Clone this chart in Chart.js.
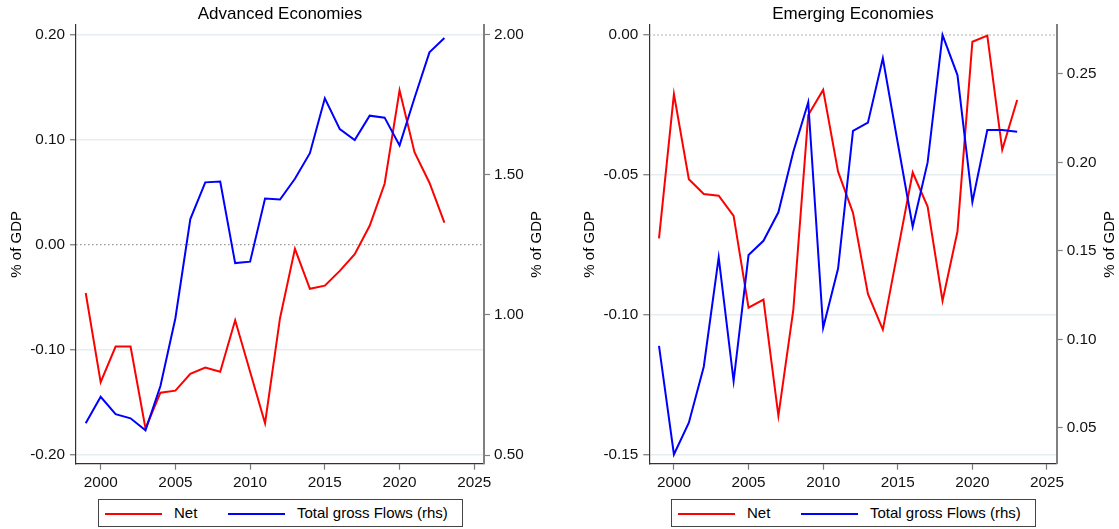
<!DOCTYPE html>
<html><head><meta charset="utf-8">
<script src="https://cdn.jsdelivr.net/npm/chart.js@4/dist/chart.umd.min.js"></script>
<style>
html,body{margin:0;padding:0;background:#fff;}
#wrap{position:relative;width:1119px;height:529px;overflow:hidden;font-family:"Liberation Sans",Arial,sans-serif;}
canvas{position:absolute;top:0;}
.legend{position:absolute;top:499px;height:28px;border:1px solid #444;box-sizing:border-box;font-size:15px;color:#000;background:#fff;}
.legend .sw{position:absolute;top:13px;height:0;border-top:2px solid;}
.legend .tx{position:absolute;top:4px;line-height:18px;white-space:nowrap;}
</style></head>
<body>
<div id="wrap">
  <canvas id="c1" width="560" height="496" style="left:0px"></canvas>
  <canvas id="c2" width="559" height="496" style="left:560px"></canvas>
  <div class="legend" style="left:98px;width:365px">
    <div class="sw" style="left:6px;width:57px;border-color:#ff0000"></div>
    <div class="tx" style="left:75px">Net</div>
    <div class="sw" style="left:129px;width:57px;border-color:#0000ff"></div>
    <div class="tx" style="left:198px">Total gross Flows (rhs)</div>
  </div>
  <div class="legend" style="left:671px;width:365px">
    <div class="sw" style="left:6px;width:57px;border-color:#ff0000"></div>
    <div class="tx" style="left:75px">Net</div>
    <div class="sw" style="left:129px;width:57px;border-color:#0000ff"></div>
    <div class="tx" style="left:198px">Total gross Flows (rhs)</div>
  </div>
</div>
<script>
// ---- data ----
const years = [1999,2000,2001,2002,2003,2004,2005,2006,2007,2008,2009,2010,2011,2012,2013,2014,2015,2016,2017,2018,2019,2020,2021,2022,2023];
const advNet = [-0.046,-0.131,-0.097,-0.097,-0.175,-0.141,-0.139,-0.123,-0.117,-0.121,-0.072,-0.121,-0.170,-0.070,-0.004,-0.042,-0.039,-0.025,-0.009,0.018,0.058,0.147,0.088,0.059,0.021];
const advGross = [0.613,0.708,0.646,0.631,0.588,0.746,0.988,1.342,1.473,1.476,1.185,1.190,1.415,1.412,1.486,1.577,1.773,1.663,1.624,1.711,1.704,1.605,1.774,1.937,1.988];
const emNet = [-0.0726,-0.0211,-0.0515,-0.0568,-0.0574,-0.0646,-0.0974,-0.0945,-0.1360,-0.0982,-0.0286,-0.0196,-0.0488,-0.0635,-0.0925,-0.1052,-0.0771,-0.0491,-0.0613,-0.0949,-0.0702,-0.0024,-0.0002,-0.0410,-0.0232];
const emGross = [0.0963,0.0349,0.0528,0.0845,0.1463,0.0764,0.1476,0.1557,0.1718,0.2060,0.2340,0.1065,0.1400,0.2178,0.2225,0.2589,0.2110,0.1636,0.2000,0.2720,0.2494,0.1776,0.2183,0.2183,0.2174];
const titles = ["Advanced Economies","Emerging Economies"];
const seriesLabels = ["Net","Total gross Flows (rhs)"];
const axisTitle = "% of GDP";
const xTicks = [2000,2005,2010,2015,2020,2025];

Chart.defaults.font.family = '"Liberation Sans", Arial, sans-serif';
Chart.defaults.color = '#000';

const pts = arr => years.map((y,i)=>({x:y,y:arr[i]}));

const zeroLine = {
  id:'zeroLine',
  beforeDatasetsDraw(chart){
    const s = chart.scales.y, a = chart.chartArea, ctx = chart.ctx;
    const y = s.getPixelForValue(0);
    ctx.save();
    ctx.strokeStyle = '#9a9a9a'; ctx.lineWidth = 1.2; ctx.setLineDash([1.5,2.5]);
    ctx.beginPath(); ctx.moveTo(a.left,y); ctx.lineTo(a.right,y); ctx.stroke();
    ctx.restore();
  }
};
const rightTitle = {
  id:'rightTitle',
  afterDraw(chart, args, opts){
    const s = chart.scales.y1, a = chart.chartArea, ctx = chart.ctx;
    ctx.save();
    ctx.translate(s.right - opts.pad - 9, (a.top + a.bottom)/2);
    ctx.rotate(-Math.PI/2);
    ctx.textAlign = 'center'; ctx.textBaseline = 'middle';
    ctx.font = '15px "Liberation Sans", Arial, sans-serif';
    ctx.fillStyle = '#000';
    ctx.fillText(s.options.title.text, 0, 0);
    ctx.restore();
  }
};

function make(id, title, net, gross, g){
  new Chart(document.getElementById(id), {
    type:'line',
    data:{datasets:[
      {label:seriesLabels[1], data:pts(gross), yAxisID:'y1', borderColor:'#0000ff', borderWidth:2, pointRadius:0, tension:0, order:0},
      {label:seriesLabels[0], data:pts(net), yAxisID:'y', borderColor:'#ff0000', borderWidth:2, pointRadius:0, tension:0, order:1}
    ]},
    options:{
      responsive:false, animation:false,
      layout:{padding:0},
      plugins:{
        legend:{display:false}, tooltip:{enabled:false},
        title:{display:true, text:title, fullSize:false, font:{size:17, weight:'normal'}, color:'#000', padding:{top:4, bottom:0.6}},
        rightTitle:{pad:g.rPad}
      },
      scales:{
        x:{type:'linear', min:1998.35, max:2025.65,
           afterFit:s=>{s.height = g.h - 463.7;},
           afterBuildTicks:s=>{s.ticks = xTicks.map(v=>({value:v}));},
           ticks:{stepSize:5, callback:v=>String(v), font:{size:15.3}, color:'#111', padding:4, maxRotation:0, autoSkip:false},
           grid:{drawOnChartArea:false, drawTicks:true, tickLength:6, tickColor:'#777', tickWidth:1.2},
           border:{color:'#333', width:1.2}},
        y:{position:'left', min:g.yMin, max:g.yMax,
           afterFit:s=>{s.width = g.left;},
           ticks:{stepSize:g.yStep, includeBounds:false, callback:v=>Number(v).toFixed(2), font:{size:15.3}, color:'#111', padding:5},
           grid:{color:c=>(c.tick && Math.abs(c.tick.value)<1e-9)?'rgba(0,0,0,0)':'#e6eef1', lineWidth:1.5, tickLength:6, tickColor:'#777', tickWidth:1.2},
           border:{color:'#333', width:1.2},
           title:{display:true, text:axisTitle, font:{size:15}, color:'#000', padding:{top:g.lPad, bottom:0}}},
        y1:{position:'right', min:g.rMin, max:g.rMax,
           afterFit:s=>{s.width = g.w - g.right;},
           ticks:{stepSize:g.rStep, includeBounds:false, callback:v=>Number(v).toFixed(2), font:{size:15.3}, color:'#111', padding:4},
           grid:{drawOnChartArea:false, tickLength:6, tickColor:'#808080', tickWidth:1.2},
           border:{color:'#808080', width:2},
           title:{display:false, text:axisTitle}}
      }
    },
    plugins:[zeroLine, rightTitle]
  });
}

make('c1', titles[0], advNet, advGross, {w:560, h:496, left:76, right:484, lPad:8, rPad:14,
  yMin:-0.2086, yMax:0.2092, yStep:0.1, rMin:0.469, rMax:2.0346, rStep:0.5});
make('c2', titles[1], emNet, emGross, {w:559, h:496, left:89.3, right:496.7, lPad:21, rPad:0,
  yMin:-0.1531, yMax:0.00357, yStep:0.05, rMin:0.02965, rMax:0.2777, rStep:0.05});
</script>
</body></html>
